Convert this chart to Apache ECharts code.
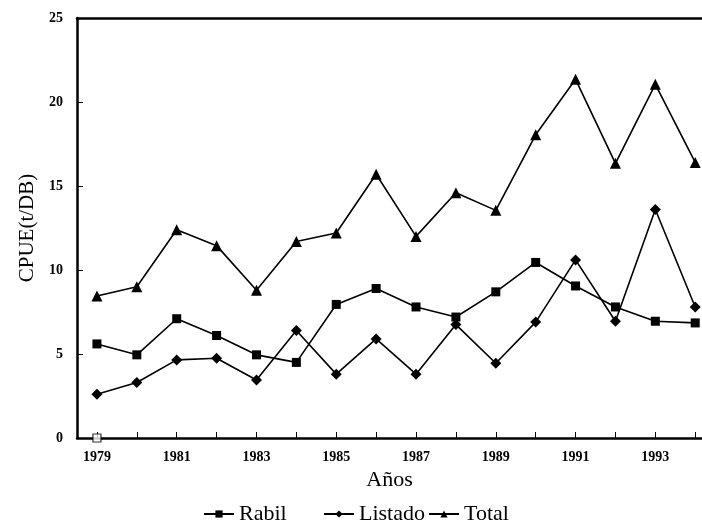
<!DOCTYPE html>
<html>
<head>
<meta charset="utf-8">
<script src="https://cdn.jsdelivr.net/npm/echarts@6/dist/echarts.min.js"></script>
<style>html,body{margin:0;padding:0;background:#fff}#c{width:702px;height:525px}</style>
</head>
<body>
<div id="c"></div>
<script>
var years = [1979,1980,1981,1982,1983,1984,1985,1986,1987,1988,1989,1990,1991,1992,1993,1994];
var labelYears = [1979,1981,1983,1985,1987,1989,1991,1993];
var rabil   = [5.6,4.95,7.1,6.1,4.95,4.5,7.95,8.9,7.8,7.2,8.7,10.45,9.05,7.8,6.95,6.85];
var listado = [2.6,3.3,4.65,4.75,3.45,6.4,3.8,5.9,3.8,6.75,4.45,6.9,10.6,6.95,13.6,7.8];
var total   = [8.45,9.0,12.4,11.45,8.8,11.7,12.2,15.7,12.0,14.6,13.55,18.05,21.35,16.35,21.05,16.4];
var hollowPoint = [[1979, 0]];

function pairs(v){ return years.map(function(y,i){ return [y, v[i]]; }); }
var serif = 'Liberation Serif';
var chart = echarts.init(document.getElementById('c'), null, {renderer:'canvas'});
function lineSeries(name, data, symbol, size){
  return {name:name, type:'line', data:pairs(data), symbol:symbol, symbolSize:size,
    lineStyle:{color:'#000', width:1.6}, itemStyle:{color:'#000'}, showAllSymbol:true};
}
function legend(name, left){
  return {data:[name], left:left, top:498, itemWidth:30, itemHeight:9, itemGap:4,
    textStyle:{fontFamily:serif, fontSize:22, color:'#000'}};
}
chart.setOption({
  animation:false,
  backgroundColor:'#fff',
  grid:{left:77, right:0, top:18, bottom:87},
  legend:[legend('Rabil',198), legend('Listado',318), legend('Total',423)],
  xAxis:[{
    type:'value', min:1978.5, max:1994.17,
    axisLine:{show:true, lineStyle:{color:'#000', width:2.5}},
    axisTick:{show:true, inside:true, length:6, customValues:years, lineStyle:{color:'#000', width:1}},
    axisLabel:{customValues:labelYears, margin:12, fontFamily:serif, fontWeight:'bold', fontSize:14, color:'#000',
      formatter:function(v){ return String(Math.round(v)); }},
    splitLine:{show:false},
    name:'Años', nameLocation:'middle', nameGap:30,
    nameTextStyle:{fontFamily:serif, fontSize:22, color:'#000'}
  },{
    type:'value', position:'top', min:1978.5, max:1994.17,
    axisLine:{show:true, lineStyle:{color:'#000', width:2.5}},
    axisTick:{show:false}, axisLabel:{show:false}, splitLine:{show:false}
  }],
  yAxis:{
    type:'value', min:0, max:25, interval:5,
    axisLine:{show:true, lineStyle:{color:'#000', width:2.5}},
    axisTick:{show:true, inside:true, length:6, lineStyle:{color:'#000', width:1}},
    axisLabel:{margin:14, fontFamily:serif, fontWeight:'bold', fontSize:14, color:'#000'},
    splitLine:{show:false},
    name:'CPUE(t/DB)', nameLocation:'middle', nameGap:38,
    nameTextStyle:{fontFamily:serif, fontSize:21, color:'#000'}
  },
  series:[
    lineSeries('Rabil', rabil, 'rect', 9),
    lineSeries('Listado', listado, 'diamond', 11),
    lineSeries('Total', total, 'triangle', 11),
    {type:'scatter', data:hollowPoint, symbol:'rect', symbolSize:8, z:5,
     itemStyle:{color:'#fff', borderColor:'#000', borderWidth:1.2}}
  ]
});
</script>
</body>
</html>
